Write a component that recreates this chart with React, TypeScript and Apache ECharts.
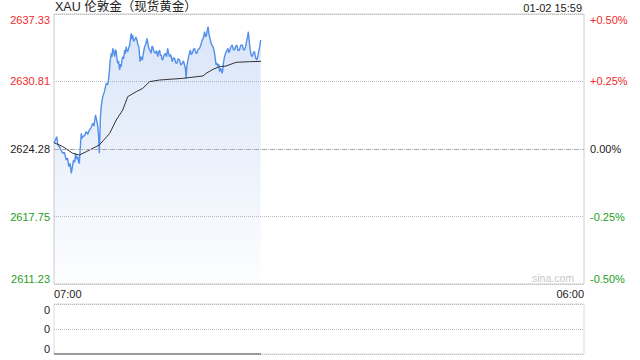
import React, { useEffect, useRef } from "react";
import * as echarts from "echarts";

// ---- data ----
const titleText = "XAU 伦敦金（现货黄金）";
const timeText = "01-02 15:59";

// minutes after 07:00
const priceMinutes = [0,3,7,10,14,18,23,27,32,35,39,42,45,48,51,54,56,59,62,64,66,68,71,73,75,80,84,88,92,96,101,104,108,111,114,116,118,121,123,125,127,131,136,140,143,146,149,151,153,156,158,160,162,164,166,168,171,173,175,177,179,181,184,186,188,190,192,195,197,199,201,203,205,207,210,213,216,218,221,223,224,227,230,233,236,239,242,245,247,250,253,255,257,260,264,267,270,272,275,277,279,281,283,286,290,293,296,298,301,304,308,311,314,317,320,323,327,330,334,337,340,342,344,346,348,351,355,357,360,363,366,369,372,375,379,382,386,389,392,394,396,399,401,404,407,410,414,416,418,420,422,424,427,429,431,434,438,440,441,444,447,450,453,455,457,460,464,467,470,473,476,479,483,486,490,493,496,499,502,504,506,508,511,513,516,519,522,525,528,531,533,536,538];
const priceValues = [2624.83,2625.10,2625.47,2624.70,2624.51,2624.20,2623.86,2623.95,2623.22,2623.40,2622.57,2622.90,2621.93,2622.60,2623.22,2623.00,2623.86,2623.30,2623.54,2623.00,2622.89,2624.20,2625.79,2625.30,2625.47,2625.60,2625.96,2625.70,2626.12,2626.30,2626.76,2626.50,2627.57,2627.10,2626.44,2625.60,2623.86,2627.50,2628.37,2628.90,2629.34,2629.80,2630.63,2630.50,2631.27,2632.70,2633.53,2633.20,2634.01,2633.60,2633.21,2633.90,2633.69,2633.00,2632.56,2632.80,2631.92,2632.50,2632.24,2632.90,2633.21,2633.00,2633.85,2633.50,2634.17,2633.80,2633.69,2634.10,2634.33,2634.90,2635.46,2634.90,2635.30,2634.70,2634.82,2635.10,2634.82,2634.40,2634.17,2633.20,2632.72,2633.20,2632.88,2633.60,2634.17,2634.40,2634.98,2634.40,2634.01,2633.80,2633.53,2634.20,2634.17,2633.70,2633.53,2633.80,2633.21,2633.60,2633.85,2633.30,2633.37,2633.00,2632.88,2633.30,2633.53,2633.20,2634.01,2633.60,2633.21,2633.40,2632.72,2633.10,2633.04,2632.60,2632.56,2633.00,2632.88,2632.40,2632.56,2632.80,2632.40,2632.10,2631.11,2632.30,2632.72,2633.30,2633.85,2633.40,2633.53,2633.90,2634.01,2633.60,2633.53,2633.90,2634.01,2634.30,2634.82,2635.00,2635.62,2635.20,2635.14,2635.70,2636.11,2635.30,2634.82,2634.40,2634.17,2633.90,2633.53,2633.00,2632.40,2632.60,2632.24,2632.50,2631.76,2632.10,2631.59,2632.10,2632.56,2633.20,2633.53,2633.80,2634.01,2633.60,2633.69,2634.10,2634.33,2633.90,2633.85,2634.20,2634.33,2633.80,2633.85,2634.30,2634.33,2633.90,2633.85,2634.20,2634.82,2635.10,2635.62,2634.80,2633.85,2633.40,2633.21,2633.60,2633.69,2633.10,2632.88,2633.30,2633.69,2634.20,2634.82];

const avgMinutes = [0,23,49,66,84,118,145,162,179,192,214,231,249,275,335,388,396,414,431,448,474,509,539];
const avgValues = [2624.89,2624.51,2623.86,2623.70,2624.02,2624.67,2625.79,2627.08,2628.05,2629.34,2629.82,2630.14,2630.79,2630.95,2631.11,2631.34,2631.59,2631.98,2632.24,2632.30,2632.66,2632.72,2632.75];

const volMinutes = [0, 539];
const volValues = [0, 0];

const basePrice = 2624.28;
const leftTickLabels = ["2611.23", "2617.75", "2624.28", "2630.81", "2637.33"];
const rightTickLabels = ["-0.50%", "-0.25%", "0.00%", "+0.25%", "+0.50%"];
const xTickMinutes = [0, 1380];
const xTickLabels = ["07:00", "06:00"];
const volTickLabels = ["0", "0", "0"];

const FONT = 'Arial, "Liberation Sans", "Noto Sans CJK SC", sans-serif';
const RED = "#f02a2a";
const GREEN = "#1e9e1e";

const leftTickValues = leftTickLabels.map(Number);

function nearestIdx(v: number) {
  let best = 0;
  for (let i = 1; i < leftTickValues.length; i++) {
    if (Math.abs(leftTickValues[i] - v) < Math.abs(leftTickValues[best] - v)) best = i;
  }
  return best;
}
function colorFor(v: any) {
  const i = nearestIdx(Number(v));
  if (i > 2) return RED;
  if (i < 2) return GREEN;
  return "#222";
}

export default function App() {
  const ref = useRef<HTMLDivElement>(null);
  useEffect(() => {
    document.body.style.margin = "0";
    const chart = echarts.init(ref.current!, null, { renderer: "svg" });
    const yMin = leftTickValues[0];
    const yMax = leftTickValues[leftTickValues.length - 1];
    chart.setOption({
      animation: false,
      textStyle: { fontFamily: FONT },
      grid: [
        { left: 54, right: 56, top: 14, height: 270, show: true, borderColor: "#ccc", borderWidth: 1 },
        { left: 54, right: 56, top: 304, height: 50, show: true, borderColor: "#ddd", borderWidth: 1 },
      ],
      xAxis: [
        {
          type: "value", gridIndex: 0, min: 0, max: 1380,
          axisLine: { show: false }, axisTick: { show: false }, splitLine: { show: false },
          axisLabel: {
            customValues: xTickMinutes,
            formatter: (v: number) => xTickLabels[xTickMinutes.indexOf(Math.round(v))] ?? "",
            alignMinLabel: "left", alignMaxLabel: "right",
            margin: 4, fontSize: 11, color: "#222", fontFamily: FONT,
          },
        },
        {
          type: "value", gridIndex: 1, min: 0, max: 1380,
          axisLine: { show: false }, axisTick: { show: false }, splitLine: { show: false },
          axisLabel: { show: false },
        },
      ],
      yAxis: [
        {
          type: "value", gridIndex: 0, min: yMin, max: yMax, position: "left",
          axisLine: { show: false },
          axisTick: { show: false, customValues: leftTickValues },
          splitLine: { show: true, lineStyle: { type: "dotted", color: "#bbb", width: 1 } },
          axisLabel: {
            customValues: leftTickValues,
            formatter: (v: number) => leftTickLabels[nearestIdx(v)],
            color: (v: any) => colorFor(v),
            verticalAlignMinLabel: "bottom", verticalAlignMaxLabel: "top",
            margin: 4, fontSize: 11, fontFamily: FONT,
          },
        },
        {
          type: "value", gridIndex: 0, min: yMin, max: yMax, position: "right",
          axisLine: { show: false },
          axisTick: { show: false, customValues: leftTickValues },
          splitLine: { show: false },
          axisLabel: {
            customValues: leftTickValues,
            formatter: (v: number) => rightTickLabels[nearestIdx(v)],
            color: (v: any) => colorFor(v),
            verticalAlignMinLabel: "bottom", verticalAlignMaxLabel: "top",
            margin: 6, fontSize: 11, fontFamily: FONT,
          },
        },
        {
          type: "value", gridIndex: 1, min: 0, max: 1, interval: 0.5,
          axisLine: { show: false }, axisTick: { show: false },
          splitLine: { show: true, lineStyle: { type: "dotted", color: "#bbb", width: 1 } },
          axisLabel: {
            formatter: (v: number, i: number) => volTickLabels[i] ?? "0",
            verticalAlignMinLabel: "bottom", verticalAlignMaxLabel: "top",
            margin: 4, fontSize: 11, color: "#222", fontFamily: FONT,
          },
        },
      ],
      series: [
        {
          type: "line", xAxisIndex: 0, yAxisIndex: 0,
          data: priceMinutes.map((m, i) => [m, priceValues[i]]),
          showSymbol: false, smooth: false,
          lineStyle: { color: "#5290ea", width: 1.4 },
          areaStyle: {
            origin: "start",
            color: new echarts.graphic.LinearGradient(0, 0, 0, 1, [
              { offset: 0, color: "rgba(96,145,226,0.34)" },
              { offset: 1, color: "rgba(96,145,226,0.02)" },
            ]),
          },
          markLine: {
            silent: true, symbol: "none", label: { show: false },
            lineStyle: { type: [5, 3], color: "#aaa", width: 1 },
            data: [{ yAxis: basePrice }],
          },
          z: 3,
        },
        {
          type: "line", xAxisIndex: 0, yAxisIndex: 0,
          data: avgMinutes.map((m, i) => [m, avgValues[i]]),
          showSymbol: false, smooth: false,
          lineStyle: { color: "#333", width: 1 },
          z: 4,
        },
        {
          type: "line", xAxisIndex: 1, yAxisIndex: 2,
          data: volMinutes.map((m, i) => [m, volValues[i]]),
          showSymbol: false,
          lineStyle: { color: "#777", width: 1.5 },
        },
      ],
      graphic: [
        { type: "text", left: 55, top: 1, style: { text: titleText, fontSize: 12.5, fill: "#222", fontFamily: FONT } },
        { type: "text", right: 58, top: 2, style: { text: timeText, fontSize: 11, fill: "#222", fontFamily: FONT } },
        { type: "text", right: 66, top: 273, style: { text: "sina.com", fontSize: 10.5, fill: "#c8c8c8", fontFamily: FONT } },
      ],
    });
    return () => chart.dispose();
  }, []);
  return <div ref={ref} style={{ width: 640, height: 360 }} />;
}
